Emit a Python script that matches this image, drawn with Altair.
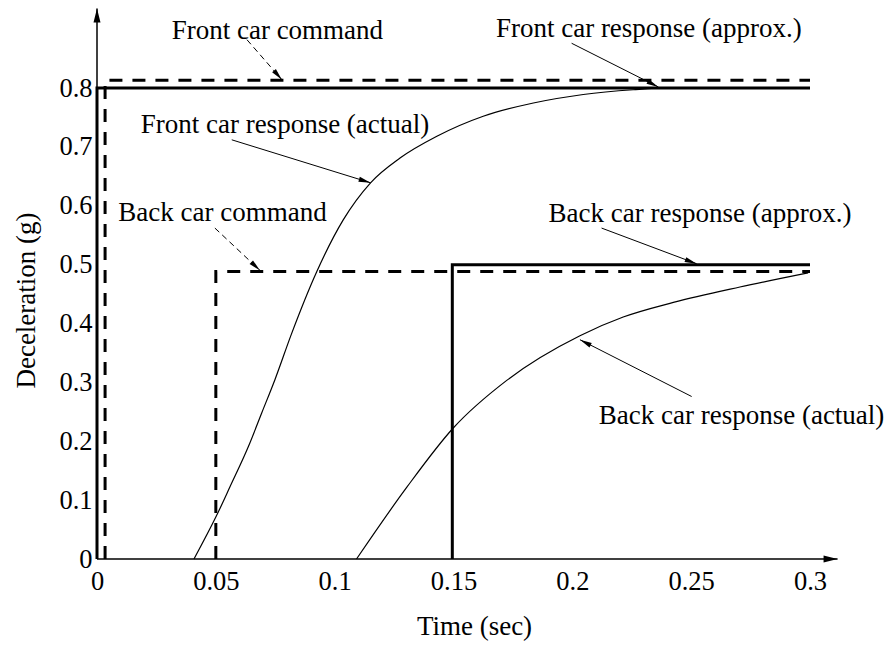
import math
import altair as alt
import pandas as pd

# ---------------- data ----------------
# step signals (time in s, deceleration in g)
fc_cmd_t = [0.0034, 0.0034, 0.3]
fc_cmd_v = [0.0, 0.813, 0.813]
fc_apx_t = [0.0, 0.0, 0.3]
fc_apx_v = [0.0, 0.8, 0.8]
bc_cmd_t = [0.05, 0.05, 0.3]
bc_cmd_v = [0.0, 0.4885, 0.4885]
bc_apx_t = [0.1495, 0.1495, 0.3]
bc_apx_v = [0.0, 0.5, 0.5]

# actual responses
fc_act_t = [0.0408, 0.0501, 0.056, 0.0637, 0.0693, 0.0749, 0.0818, 0.0924, 0.1036,
            0.1151, 0.1275, 0.143, 0.1625, 0.1836, 0.2046, 0.2256, 0.2397, 0.26]
fc_act_v = [0.0, 0.072, 0.123, 0.191, 0.248, 0.305, 0.382, 0.4875, 0.576,
            0.639, 0.681, 0.718, 0.752, 0.7745, 0.789, 0.797, 0.8, 0.8]
bc_act_t = [0.1092, 0.1303, 0.1499, 0.1724, 0.2032, 0.2214, 0.2425, 0.2705, 0.2992]
bc_act_v = [0.0, 0.1216, 0.2225, 0.3034, 0.3793, 0.411, 0.4358, 0.462, 0.486]

x_ticks = [0, 0.05, 0.1, 0.15, 0.2, 0.25, 0.3]
y_ticks = [0, 0.1, 0.2, 0.3, 0.4, 0.5, 0.6, 0.7, 0.8]

# annotations
ann_text = ["Front car command", "Front car response (approx.)", "Front car response (actual)",
            "Back car command", "Back car response (approx.)", "Back car response (actual)"]
ann_t = [0.0759, 0.2322, 0.0791, 0.0528, 0.2537, 0.2712]
ann_v = [0.8837, 0.887, 0.724, 0.5746, 0.5729, 0.2289]
arr_t0 = [0.0631, 0.1997, 0.0567, 0.0496, 0.2123, 0.2502]
arr_v0 = [0.882, 0.876, 0.712, 0.5621, 0.5621, 0.276]
arr_t1 = [0.0778, 0.2362, 0.1151, 0.0686, 0.2523, 0.2032]
arr_v1 = [0.814, 0.8017, 0.639, 0.4901, 0.5015, 0.3725]
arr_dash = [True, False, False, True, False, False]

# axis arrow ends
x_axis_end = 0.3116
y_axis_end = 0.935

# ---------------- geometry ----------------
W, H = 713, 471
XMAX, YMAX = 0.3, 0.8
FONT = "Liberation Serif"
FS = 27
TFS = 26.5

xs = alt.Scale(domain=[0, XMAX], nice=False, zero=False)
ys = alt.Scale(domain=[0, YMAX], nice=False, zero=False)


def angle_of(t0, v0, t1, v1):
    dx = (t1 - t0) * W / XMAX
    dy = -(v1 - v0) * H / YMAX
    return math.degrees(math.atan2(dy, dx)) % 360


def series(name, ts, vs):
    return [{"s": name, "i": i, "t": t, "v": v} for i, (t, v) in enumerate(zip(ts, vs))]


dashed_df = pd.DataFrame(series("fc_cmd", fc_cmd_t, fc_cmd_v) + series("bc_cmd", bc_cmd_t, bc_cmd_v))
solid_df = pd.DataFrame(series("fc_apx", fc_apx_t, fc_apx_v) + series("bc_apx", bc_apx_t, bc_apx_v))
thin_df = pd.DataFrame(series("fc_act", fc_act_t, fc_act_v) + series("bc_act", bc_act_t, bc_act_v))

arrows_df = pd.DataFrame({
    "t": arr_t0, "v": arr_v0, "t2": arr_t1, "v2": arr_v1, "dash": arr_dash,
    "angle": [angle_of(a, b, c, d) for a, b, c, d in zip(arr_t0, arr_v0, arr_t1, arr_v1)],
})
text_df = pd.DataFrame({"t": ann_t, "v": ann_v, "label": ann_text})

axes_df = pd.DataFrame({"t": [0.0, 0.0], "v": [0.0, 0.0],
                        "t2": [x_axis_end, 0.0], "v2": [0.0, y_axis_end]})
axis_heads_df = pd.DataFrame({"t": [x_axis_end, 0.0], "v": [0.0, y_axis_end],
                              "angle": [0.0, 270.0]})

x_axis = alt.Axis(values=x_ticks, format="~g", title="Time (sec)", grid=False, domain=False,
                  ticks=False, tickSize=0, labelPadding=30, labelBaseline="alphabetic",
                  labelFont=FONT, labelFontSize=TFS, labelColor="black", titleFont=FONT,
                  titleFontSize=FS, titleFontWeight="normal", titleColor="black",
                  titleX=377, titleY=75, titleBaseline="alphabetic", titleAlign="center",
                  labelFlush=False, labelOverlap=False)
y_axis = alt.Axis(values=y_ticks, format="~g", title="Deceleration (g)", grid=False, domain=False,
                  ticks=False, tickSize=0, labelPadding=5, labelAlign="right",
                  labelBaseline="middle", labelFont=FONT, labelFontSize=TFS, labelColor="black",
                  titleFont=FONT, titleFontSize=FS, titleFontWeight="normal", titleColor="black",
                  titleAngle=270, titleX=-63, titleY=212, titleBaseline="alphabetic",
                  titleAlign="center", labelFlush=False, labelOverlap=False)


def X(f="t"):
    return alt.X(f"{f}:Q", scale=xs, axis=x_axis)


def Y(f="v"):
    return alt.Y(f"{f}:Q", scale=ys, axis=y_axis)


base_axes = alt.Chart(axes_df).mark_rule(color="black", strokeWidth=1.5).encode(
    x=X(), y=Y(), x2="t2:Q", y2="v2:Q")

big_head = "M0,0L-2,-0.5L-2,0.5Z"
small_head = "M0,0L-2,-0.42L-2,0.42Z"

axis_heads = alt.Chart(axis_heads_df).mark_point(
    shape=big_head, filled=True, size=196, color="black", opacity=1, strokeWidth=0
).encode(x=X(), y=Y(), angle=alt.Angle("angle:Q", scale=None))

dashed = alt.Chart(dashed_df).mark_line(color="black", strokeWidth=3, strokeDash=[13, 10]).encode(
    x=X(), y=Y(), detail="s:N", order="i:Q")
solid = alt.Chart(solid_df).mark_line(color="black", strokeWidth=3).encode(
    x=X(), y=Y(), detail="s:N", order="i:Q")
thin = alt.Chart(thin_df).mark_line(color="black", strokeWidth=1.2, interpolate="monotone").encode(
    x=X(), y=Y(), detail="s:N", order="i:Q")

arrow_dashed = alt.Chart(arrows_df).transform_filter("datum.dash").mark_rule(
    color="black", strokeWidth=1, strokeDash=[6, 4]).encode(x=X(), y=Y(), x2="t2:Q", y2="v2:Q")
arrow_solid = alt.Chart(arrows_df).transform_filter("!datum.dash").mark_rule(
    color="black", strokeWidth=1).encode(x=X(), y=Y(), x2="t2:Q", y2="v2:Q")
arrow_heads = alt.Chart(arrows_df).mark_point(
    shape=small_head, filled=True, size=144, color="black", opacity=1, strokeWidth=0
).encode(x=X("t2"), y=Y("v2"), angle=alt.Angle("angle:Q", scale=None))

texts = alt.Chart(text_df).mark_text(font=FONT, fontSize=FS, align="center",
                                     baseline="alphabetic", color="black").encode(
    x=X(), y=Y(), text="label:N")

chart = alt.layer(base_axes, axis_heads, dashed, solid, thin, arrow_dashed, arrow_solid,
                  arrow_heads, texts).properties(
    width=W, height=H,
    padding={"left": 89, "top": 80, "right": 77, "bottom": 82},
    autosize=alt.AutoSizeParams(type="none"),
    background="white",
).configure_view(stroke=None)

chart.save("out.html", embed_options={"renderer": "svg", "actions": False})
